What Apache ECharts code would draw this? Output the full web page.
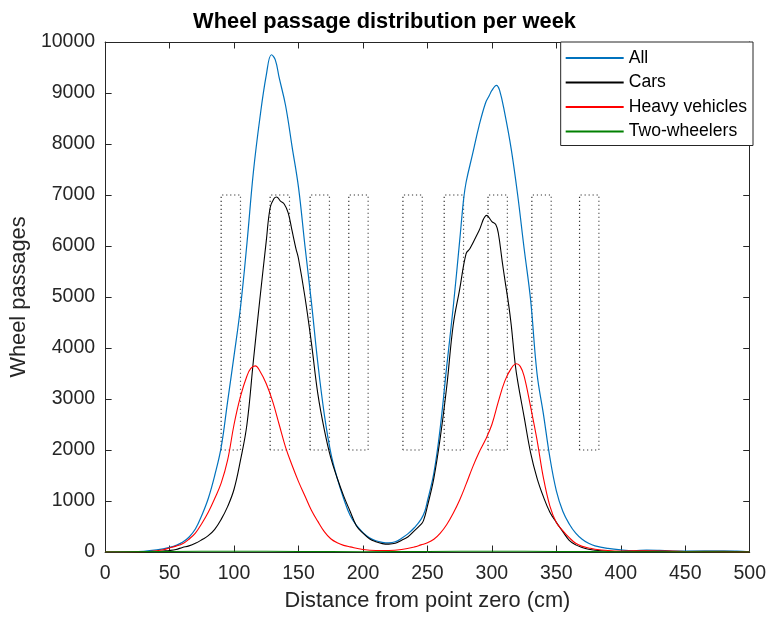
<!DOCTYPE html>
<html>
<head>
<meta charset="utf-8">
<script src="https://cdn.jsdelivr.net/npm/echarts@6/dist/echarts.min.js"></script>
<style>
html,body{margin:0;padding:0;background:#fff;}
#c{width:769px;height:617px;}
</style>
</head>
<body>
<div id="c"></div>
<script>
// ---- data ----
const titleText = 'Wheel passage distribution per week';
const xName = 'Distance from point zero (cm)';
const yName = 'Wheel passages';
const seriesNames = ['All', 'Cars', 'Heavy vehicles', 'Two-wheelers'];

const allX = [0,20,30,40,45,50,55,60,65,70,75,80,85,90,95,100,105,110,115,120,125,129,132,135,140,145,150,155,160,165,170,175,180,185,190,195,200,205,210,215,220,225,230,235,240,245,248,250,255,260,265,270,275,278,280,285,290,295,298,300,303.5,306,310,315,320,325,330,335,340,345,350,355,360,365,370,375,380,390,400,410,420,430,440,460,480,490,500];
const allY = [0,5,15,40,60,90,130,190,290,450,720,1050,1500,2050,2950,3850,4800,6050,7450,8500,9350,9750,9650,9300,8750,7950,7150,6000,4900,3700,2700,1950,1450,1050,720,520,380,280,220,190,180,200,270,360,480,640,800,1000,1550,2450,3650,4800,6100,6900,7250,7800,8350,8800,8950,9050,9150,9050,8600,7900,7000,5950,4950,3500,2700,1850,1200,800,550,370,250,170,120,70,40,25,35,30,20,20,20,20,5];

const carX = [0,20,40,45,50,55,60,65,70,75,80,85,90,95,100,105,110,115,120,125,128,131,133,136,139,142,145,148,150,155,160,165,170,175,180,185,190,195,200,205,210,215,220,225,230,235,240,245,247,250,255,260,265,270,275,280,283,290,296,300,303,305,308,310,313,315,318,320,325,330,335,340,345,350,355,360,365,370,375,380,390,400,420,450,480,500];
const carY = [0,0,10,20,30,50,90,120,170,240,320,445,640,890,1230,1800,2500,3750,4950,6100,6750,6930,6960,6880,6820,6650,6300,5950,5750,5000,4100,3100,2400,1850,1450,1100,800,510,370,260,200,165,155,170,230,300,420,540,620,900,1450,2250,3250,4450,5150,5850,5950,6300,6600,6480,6420,6250,5700,5350,4850,4450,3700,3350,2650,1950,1450,1080,780,580,400,230,140,90,55,35,15,10,15,10,15,0];

const hvX = [0,30,40,45,50,55,60,65,70,75,80,85,90,95,100,105,110,113,116.5,120,125,130,135,140,145,150,155,160,165,170,175,180,185,190,200,210,220,230,240,245,250,255,260,265,270,275,280,285,290,295,300,305,310,315,319,322,325,330,335,340,345,350,355,360,365,370,375,380,390,400,420,450,500];
const hvY = [0,5,25,45,80,115,160,250,370,560,780,1050,1350,1800,2500,3050,3450,3600,3650,3550,3300,2950,2500,2050,1700,1380,1100,820,600,400,260,180,130,100,50,30,30,50,100,140,180,250,370,540,760,1020,1330,1660,1950,2200,2500,2950,3350,3600,3690,3640,3450,2850,2200,1450,900,580,420,280,170,110,80,55,30,20,25,10,0];

const twX = [0,50,100,150,200,250,300,350,400,450,500];
const twY = [0,10,15,10,5,10,15,10,5,5,0];

const rectStart = [90,128,159,189,231,263,297,331,368];
const rectEnd   = [105,143,174,204,246,278,312,346,383];
const rectLow = 2000, rectHigh = 7000;

const xTicks = {min: 0, max: 500, step: 50};
const yTicks = {min: 0, max: 10000, step: 1000};

// ---- build ----
function pairs(xs, ys) { return xs.map((x, i) => [x, ys[i]]); }
const rectData = [];
rectStart.forEach((a, i) => {
  const b = rectEnd[i];
  rectData.push([a, rectLow], [a, rectHigh], [b, rectHigh], [b, rectLow], [a, rectLow], null);
});

const FONT = 'Liberation Sans, Arial, Helvetica, sans-serif';
const TXT = '#262626';
const colors = ['#0072BD', '#000000', '#FF0000', '#008000'];

const chart = echarts.init(document.getElementById('c'), null, {renderer: 'canvas'});
function tick() { return {show: true, inside: true, length: 6.5, lineStyle: {color: TXT, width: 1}}; }
function axLine() { return {show: true, onZero: false, lineStyle: {color: TXT, width: 1}}; }

function lineSeries(i, xs, ys, w) {
  return {name: seriesNames[i], type: 'line', data: pairs(xs, ys), symbol: 'none', showSymbol: false,
          smooth: 0.4, color: colors[i], lineStyle: {color: colors[i], width: w}, z: 2 + i,
          xAxisIndex: 0, yAxisIndex: 0};
}

chart.setOption({
  backgroundColor: '#fff',
  animation: false,
  title: {
    text: titleText, left: 'center', top: 11, padding: 0,
    textStyle: {fontFamily: FONT, fontSize: 21.8, fontWeight: 'bold', color: '#000'}
  },
  grid: {left: 103, right: 16, top: 42, bottom: 61, containLabel: false},
  legend: {
    data: seriesNames,
    orient: 'vertical',
    right: 16, top: 42,
    padding: [7, 6, 5, 5],
    itemGap: 6.5,
    itemWidth: 58, itemHeight: 2,
    icon: 'rect',
    backgroundColor: '#fff',
    borderColor: TXT, borderWidth: 1,
    textStyle: {fontFamily: FONT, fontSize: 17.6, color: '#000', lineHeight: 18}
  },
  xAxis: [{
    type: 'value', position: 'bottom', min: xTicks.min, max: xTicks.max, interval: xTicks.step,
    name: xName, nameLocation: 'middle', nameGap: 38,
    nameTextStyle: {fontFamily: FONT, fontSize: 21.8, color: TXT},
    axisLine: axLine(), axisTick: tick(), splitLine: {show: false},
    axisLabel: {fontFamily: FONT, fontSize: 19.5, color: TXT, margin: 12, formatter: v => String(v)}
  }, {
    type: 'value', position: 'top', min: xTicks.min, max: xTicks.max, interval: xTicks.step,
    axisLine: axLine(), axisTick: tick(), splitLine: {show: false},
    axisLabel: {show: false}
  }],
  yAxis: [{
    type: 'value', position: 'left', min: yTicks.min, max: yTicks.max, interval: yTicks.step,
    name: yName, nameLocation: 'middle', nameGap: 67,
    nameTextStyle: {fontFamily: FONT, fontSize: 21.8, color: TXT},
    axisLine: axLine(), axisTick: tick(), splitLine: {show: false},
    axisLabel: {fontFamily: FONT, fontSize: 19.5, color: TXT, margin: 10, formatter: v => String(v)}
  }, {
    type: 'value', position: 'right', min: yTicks.min, max: yTicks.max, interval: yTicks.step,
    axisLine: axLine(), axisTick: tick(), splitLine: {show: false},
    axisLabel: {show: false}
  }],
  series: [
    {name: 'Rects', type: 'line', data: rectData, symbol: 'none', showSymbol: false, connectNulls: false,
     lineStyle: {color: '#333', width: 1.2, type: [1.2, 2.8]}, silent: true, z: 1, xAxisIndex: 0, yAxisIndex: 0},
    lineSeries(0, allX, allY, 1.2),
    lineSeries(1, carX, carY, 1.1),
    lineSeries(2, hvX, hvY, 1.1),
    lineSeries(3, twX, twY, 1.1),
    {name: 'frame', type: 'line', data: [], xAxisIndex: 1, yAxisIndex: 1, symbol: 'none', silent: true}
  ]
});
</script>
</body>
</html>
